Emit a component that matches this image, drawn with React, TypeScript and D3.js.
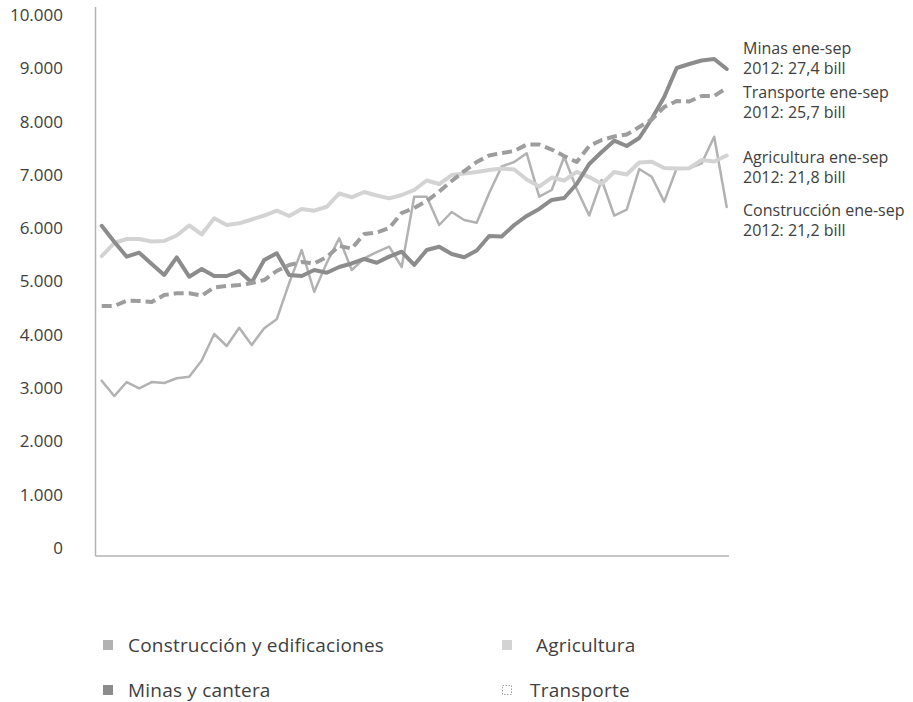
import { useEffect, useRef } from 'react';
import * as d3 from 'd3';

// monthly values, 51 months
const months = d3.range(51);

const construccion = [
  3139, 2851, 3114, 2997, 3114, 3096, 3184, 3214, 3518, 4015, 3790, 4133, 3808, 4122, 4290, 4972, 5591,
  4808, 5347, 5811, 5215, 5436, 5553, 5653, 5272, 6591, 6591, 6060, 6304, 6154, 6103, 6660, 7158, 7242,
  7405, 6591, 6717, 7341, 6736, 6238, 6904, 6238, 6350, 7110, 6966, 6498, 7124, 7124, 7218, 7717, 6398,
];

const agricultura = [
  5478, 5722, 5797, 5797, 5751, 5760, 5863, 6051, 5882, 6186, 6060, 6092, 6163, 6238, 6329, 6229, 6361,
  6329, 6402, 6651, 6580, 6679, 6613, 6560, 6623, 6717, 6895, 6829, 6998, 7026, 7055, 7092, 7120, 7101,
  6914, 6782, 6951, 6895, 7055, 6960, 6829, 7055, 7007, 7233, 7247, 7129, 7120, 7124, 7279, 7252, 7364,
];

const minas = [
  6046, 5747, 5466, 5541, 5329, 5122, 5454, 5090, 5235, 5103, 5103, 5197, 4981, 5404, 5529, 5122, 5103,
  5215, 5165, 5272, 5338, 5422, 5352, 5466, 5559, 5310, 5591, 5653, 5516, 5454, 5582, 5854, 5845, 6060,
  6229, 6361, 6530, 6567, 6829, 7204, 7430, 7642, 7542, 7692, 8049, 8462, 9006, 9081, 9147, 9175, 8987,
];

const transporte = [
  4541, 4541, 4640, 4634, 4616, 4747, 4779, 4779, 4737, 4888, 4916, 4934, 4972, 5028, 5197, 5310, 5366,
  5338, 5459, 5666, 5619, 5891, 5920, 6004, 6285, 6379, 6510, 6688, 6886, 7073, 7242, 7364, 7411, 7448,
  7570, 7570, 7476, 7355, 7242, 7542, 7654, 7720, 7758, 7898, 8040, 8274, 8387, 8377, 8480, 8480, 8631,
];

const yTicks = [0, 1000, 2000, 3000, 4000, 5000, 6000, 7000, 8000, 9000, 10000];

const seriesNames = ['Construcción y edificaciones', 'Agricultura', 'Minas y cantera', 'Transporte'];

const notes = [
  ['Minas ene-sep', '2012: 27,4 bill'],
  ['Transporte ene-sep', '2012: 25,7 bill'],
  ['Agricultura ene-sep', '2012: 21,8 bill'],
  ['Construcción ene-sep', '2012: 21,2 bill'],
];

function App() {
  const svgRef = useRef<SVGSVGElement | null>(null);
  const width = 913;
  const height = 702;

  useEffect(() => {
    const svg = d3.select(svgRef.current);
    svg.selectAll('*').remove();

    const font = "'Open Sans', sans-serif";
    const textColor = '#404040';

    const x = d3.scalePoint<number>().domain(months).range([101.7, 726.7]);
    // plot box runs a little past 0 and 10.000
    const y = d3.scaleLinear().domain([-150, 10150]).range([556, 7]);

    const loc = d3.formatLocale({ decimal: ',', thousands: '.', grouping: [3], currency: ['', ''] });
    const fmt = loc.format(',d');

    // axes
    svg
      .append('line')
      .attr('x1', 95.5)
      .attr('x2', 95.5)
      .attr('y1', y(10150))
      .attr('y2', y(-150))
      .attr('stroke', '#b3b3b3')
      .attr('stroke-width', 1.5);
    svg
      .append('line')
      .attr('x1', 95.5)
      .attr('x2', 729)
      .attr('y1', y(-150))
      .attr('y2', y(-150))
      .attr('stroke', '#b3b3b3')
      .attr('stroke-width', 1.5);

    svg
      .append('g')
      .selectAll('text')
      .data(yTicks)
      .enter()
      .append('text')
      .attr('x', 63)
      .attr('y', (d) => y(d))
      .attr('dy', '0.35em')
      .attr('text-anchor', 'end')
      .attr('font-family', font)
      .attr('font-size', 17)
      .attr('fill', textColor)
      .text((d) => fmt(d));

    const line = d3
      .line<number>()
      .x((_, i) => x(i) as number)
      .y((d) => y(d));

    const series = [
      { data: construccion, color: '#b2b2b2', w: 2.5, dash: null },
      { data: agricultura, color: '#d3d3d3', w: 4, dash: null },
      { data: minas, color: '#8c8c8c', w: 4, dash: null },
      { data: transporte, color: '#9d9d9d', w: 4, dash: '10,5' },
    ];

    series.forEach((s) => {
      svg
        .append('path')
        .attr('d', line(s.data))
        .attr('fill', 'none')
        .attr('stroke', s.color)
        .attr('stroke-width', s.w)
        .attr('stroke-linejoin', 'round')
        .attr('stroke-linecap', s.dash ? 'butt' : 'round')
        .attr('stroke-dasharray', s.dash);
    });

    // notes on the right
    const noteY = [48, 92, 157, 210];
    notes.forEach((n, i) => {
      const t = svg
        .append('text')
        .attr('font-family', font)
        .attr('font-size', 16)
        .attr('fill', textColor);
      n.forEach((s, j) => {
        t.append('tspan')
          .attr('x', 743)
          .attr('y', noteY[i] + j * 20)
          .attr('dy', '0.35em')
          .text(s);
      });
    });

    // legend
    const legendPos = [
      { x: 103, y: 645 },
      { x: 502, y: 645 },
      { x: 103, y: 690 },
      { x: 502, y: 690 },
    ];
    const legend = svg.append('g');
    seriesNames.forEach((name, i) => {
      const p = legendPos[i];
      const s = series[i];
      if (s.dash) {
        legend
          .append('rect')
          .attr('x', p.x + 0.5)
          .attr('y', p.y - 4.5)
          .attr('width', 9)
          .attr('height', 9)
          .attr('fill', 'none')
          .attr('stroke', '#a0a0a0')
          .attr('stroke-width', 1)
          .attr('stroke-dasharray', '1.5,1.5');
      } else {
        legend
          .append('rect')
          .attr('x', p.x)
          .attr('y', p.y - 5)
          .attr('width', 10)
          .attr('height', 10)
          .attr('fill', s.color);
      }
      legend
        .append('text')
        .attr('x', p.x + (i === 3 ? 28 : i === 1 ? 34 : 25))
        .attr('y', p.y)
        .attr('dy', '0.35em')
        .attr('font-family', font)
        .attr('font-size', 19)
        .attr('letter-spacing', 0.2)
        .attr('fill', textColor)
        .text(name);
    });
  }, []);

  return (
    <svg
      ref={svgRef}
      width={width}
      height={height}
      style={{ position: 'absolute', left: 0, top: 0, background: '#fff' }}
    />
  );
}

export default App;
